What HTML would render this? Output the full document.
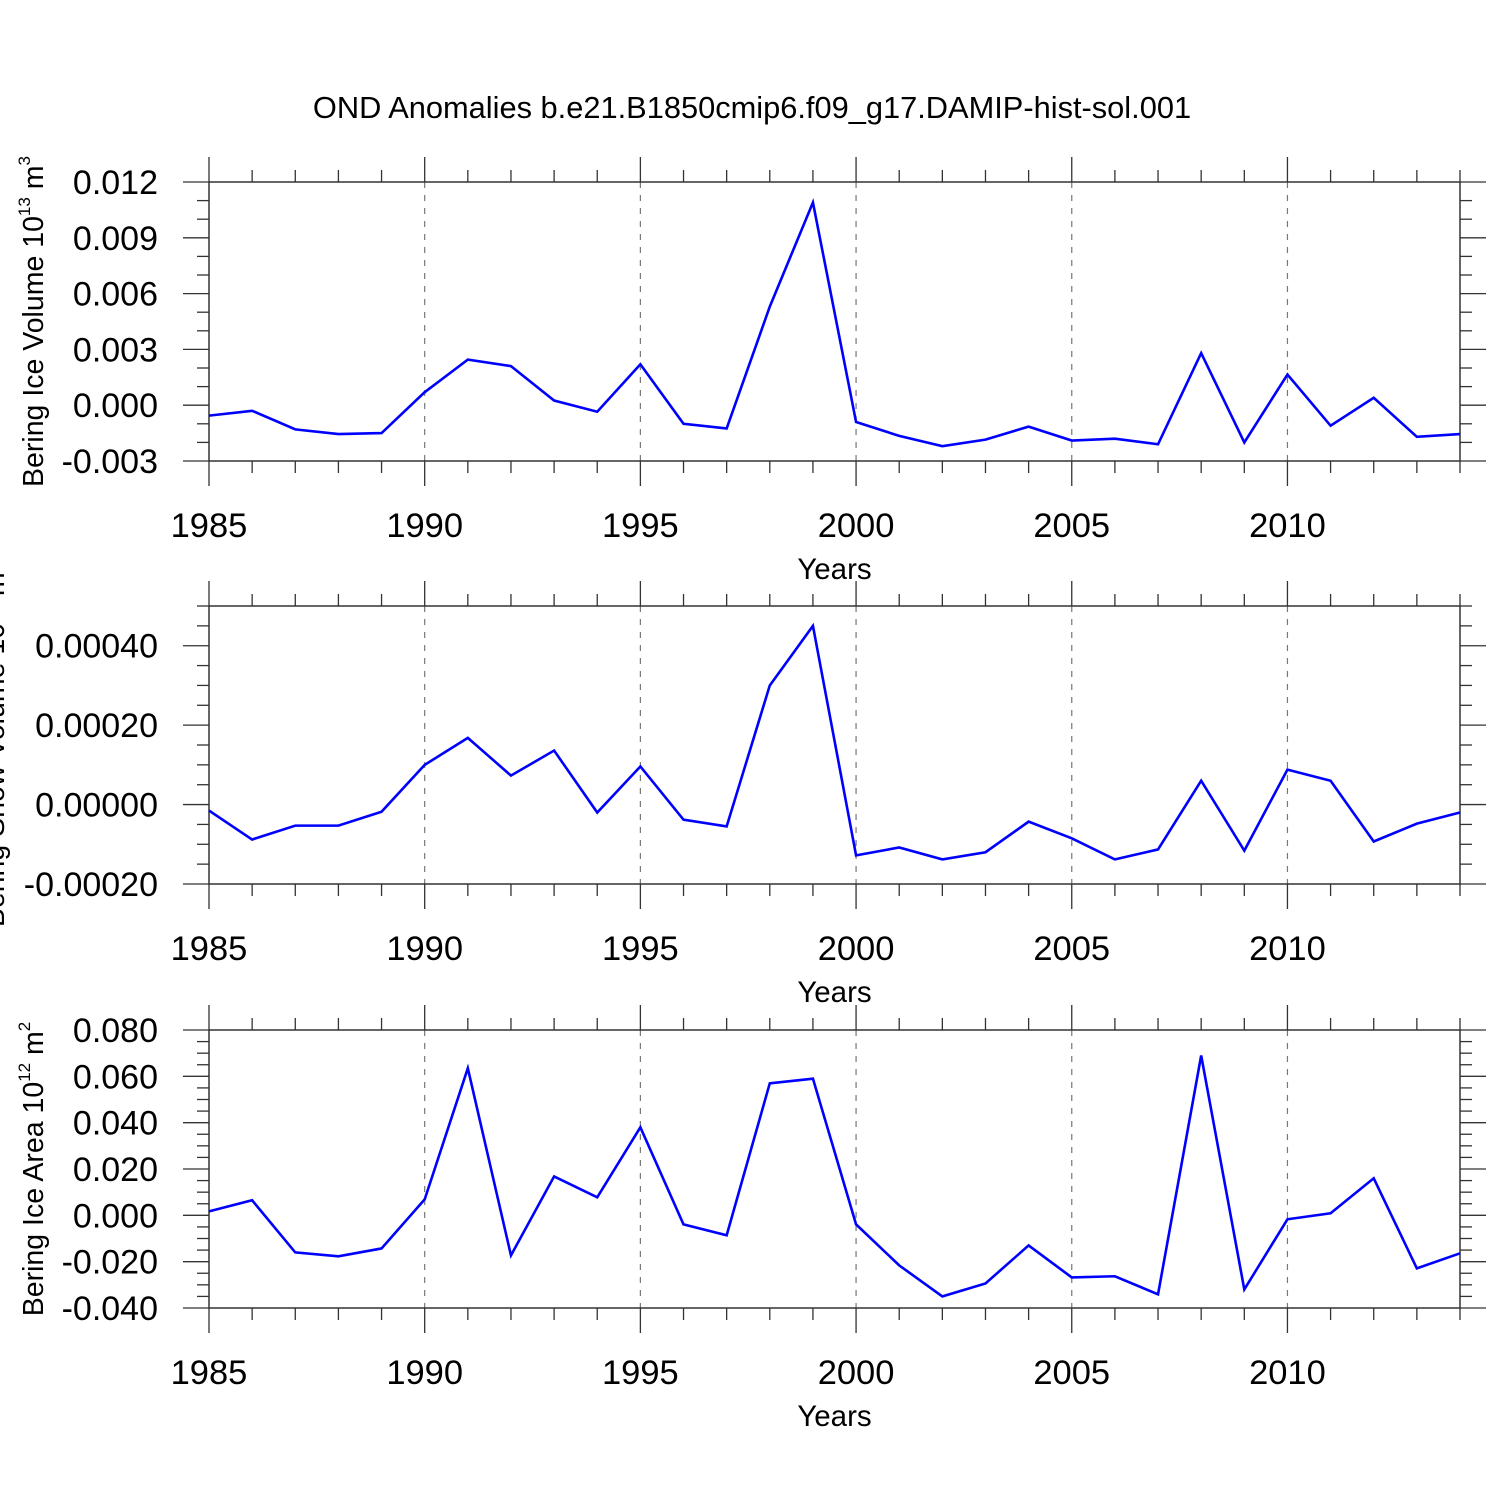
<!DOCTYPE html>
<html><head><meta charset="utf-8"><style>
html,body{margin:0;padding:0;background:#fff;}
svg{display:block;font-family:"Liberation Sans",Arial,sans-serif;}
</style></head><body>
<svg id="chart" width="1500" height="1500" viewBox="0 0 1500 1500" xmlns="http://www.w3.org/2000/svg">
<rect width="1500" height="1500" fill="#fff"/>
<text x="752" y="118" font-size="30.8" text-anchor="middle">OND Anomalies b.e21.B1850cmip6.f09_g17.DAMIP-hist-sol.001</text>
</svg>
<script>
const years = [1985,1986,1987,1988,1989,1990,1991,1992,1993,1994,1995,1996,1997,1998,1999,2000,2001,2002,2003,2004,2005,2006,2007,2008,2009,2010,2011,2012,2013,2014];
const iceVolume = [-0.00056,-0.0003,-0.0013,-0.00155,-0.0015,0.0007,0.00245,0.0021,0.00025,-0.00035,0.0022,-0.001,-0.00125,0.0053,0.0109,-0.0009,-0.00165,-0.0022,-0.00185,-0.00115,-0.0019,-0.0018,-0.0021,0.0028,-0.002,0.00165,-0.0011,0.0004,-0.0017,-0.00155];
const snowVolume = [-0.000015,-0.000088,-0.000053,-0.000053,-0.000018,0.0001,0.000168,0.000073,0.000136,-0.00002,0.000096,-0.000038,-0.000055,0.0003,0.00045,-0.000128,-0.000108,-0.000138,-0.00012,-0.000043,-0.000085,-0.000138,-0.000113,0.00006,-0.000116,0.000088,0.00006,-0.000093,-0.000048,-0.00002];
const iceArea = [0.0017,0.0065,-0.016,-0.0177,-0.0143,0.0069,0.0635,-0.0173,0.0168,0.0078,0.038,-0.0039,-0.0086,0.057,0.059,-0.0039,-0.0216,-0.035,-0.0294,-0.013,-0.0268,-0.0263,-0.0341,0.069,-0.032,-0.0017,0.0009,0.016,-0.0229,-0.0164];
const volTicks = [-0.003,0,0.003,0.006,0.009,0.012];
const volTickLabels = ["-0.003","0.000","0.003","0.006","0.009","0.012"];
const snowTicks = [-0.0002,0,0.0002,0.0004];
const snowTickLabels = ["-0.00020","0.00000","0.00020","0.00040"];
const areaTicks = [-0.04,-0.02,0,0.02,0.04,0.06,0.08];
const areaTickLabels = ["-0.040","-0.020","0.000","0.020","0.040","0.060","0.080"];
const xTicks = [1985,1990,1995,2000,2005,2010];

const NS = "http://www.w3.org/2000/svg";
const svg = document.getElementById("chart");
const X0 = 209, X1 = 1460, YR0 = 1985, YR1 = 2014;
const xs = y => X0 + (y - YR0) / (YR1 - YR0) * (X1 - X0);
function mk(tag, attrs, parent) {
  const e = document.createElementNS(NS, tag);
  for (const k in attrs) e.setAttribute(k, attrs[k]);
  (parent || svg).appendChild(e);
  return e;
}
const panels = [
  {name:"ice-volume", top:182, bot:461, ymin:-0.003, ymax:0.012, minor:0.001, data:iceVolume, ticks:volTicks, labels:volTickLabels, title:["Bering Ice Volume 10","13"," m","3"], tx:43},
  {name:"snow-volume", top:606, bot:884, ymin:-0.0002, ymax:0.0005, minor:0.00005, data:snowVolume, ticks:snowTicks, labels:snowTickLabels, title:["Bering Snow Volume 10","13"," m","3"], tx:4},
  {name:"ice-area", top:1030, bot:1308, ymin:-0.04, ymax:0.08, minor:0.005, data:iceArea, ticks:areaTicks, labels:areaTickLabels, title:["Bering Ice Area 10","12"," m","2"], tx:43}
];
panels.forEach(p => {
  const g = mk("g", {});
  
  
  const ys = v => p.bot - (v - p.ymin) / (p.ymax - p.ymin) * (p.bot - p.top);
  xTicks.forEach(t => {
    if (t === YR0) return;
    const l = mk("line", {x1:xs(t), x2:xs(t), y1:p.top, y2:p.bot, stroke:"#777", "stroke-width":1.2, "stroke-dasharray":"6,7"}, g);
    
    
  });
  const fr = mk("rect", {x:X0, y:p.top, width:X1-X0, height:p.bot-p.top, fill:"none", stroke:"#333", "stroke-width":1.5}, g);
  
  
  for (let yr = YR0; yr <= YR1; yr++) {
    const major = yr % 5 === 0;
    const len = major ? 25 : 12;
    mk("line", {x1:xs(yr), x2:xs(yr), y1:p.top-len, y2:p.top, stroke:"#333", "stroke-width":1.3}, g);
    mk("line", {x1:xs(yr), x2:xs(yr), y1:p.bot, y2:p.bot+len, stroke:"#333", "stroke-width":1.3}, g);
  }
  xTicks.forEach(t => {
    const tl = mk("text", {x:xs(t), y:p.bot+76, "font-size":34.5, "text-anchor":"middle"}, g);
    
    
    tl.textContent = t;
  });
  const xt = mk("text", {x:834.5, y:p.bot+118, "font-size":29.5, "text-anchor":"middle"}, g);
  
  
  xt.textContent = "Years";
  const n = Math.round((p.ymax - p.ymin) / p.minor);
  for (let i = 0; i <= n; i++) {
    const v = p.ymin + i * p.minor;
    const isMajor = p.ticks.some(t => Math.abs(t - v) < p.minor * 0.1);
    const len = isMajor ? 26 : 12;
    mk("line", {x1:X0-len, x2:X0, y1:ys(v), y2:ys(v), stroke:"#333", "stroke-width":1.3}, g);
    mk("line", {x1:X1, x2:X1+len, y1:ys(v), y2:ys(v), stroke:"#333", "stroke-width":1.3}, g);
  }
  p.ticks.forEach((t, i) => {
    const tl = mk("text", {x:158, y:ys(t)+12, "font-size":34, "text-anchor":"end"}, g);
    
    
    tl.textContent = p.labels[i];
  });
  const cy = (p.top + p.bot) / 2;
  const yt = mk("text", {x:0, y:0, "font-size":28.5, "text-anchor":"middle", transform:`translate(${p.tx},${cy}) rotate(-90)`}, g);
  
  
  const s1 = mk("tspan", {}, yt); s1.textContent = p.title[0];
  const s2 = mk("tspan", {dy:-13, "font-size":17}, yt); s2.textContent = p.title[1];
  const s3 = mk("tspan", {dy:13}, yt); s3.textContent = p.title[2];
  const s4 = mk("tspan", {dy:-13, "font-size":17}, yt); s4.textContent = p.title[3];
  const pts = p.data.map((v, i) => xs(years[i]) + "," + ys(v)).join(" ");
  const line = mk("polyline", {points:pts, fill:"none", stroke:"#0000ff", "stroke-width":2.6, "stroke-linejoin":"miter"}, g);
  
  
});
</script>
</body></html>
